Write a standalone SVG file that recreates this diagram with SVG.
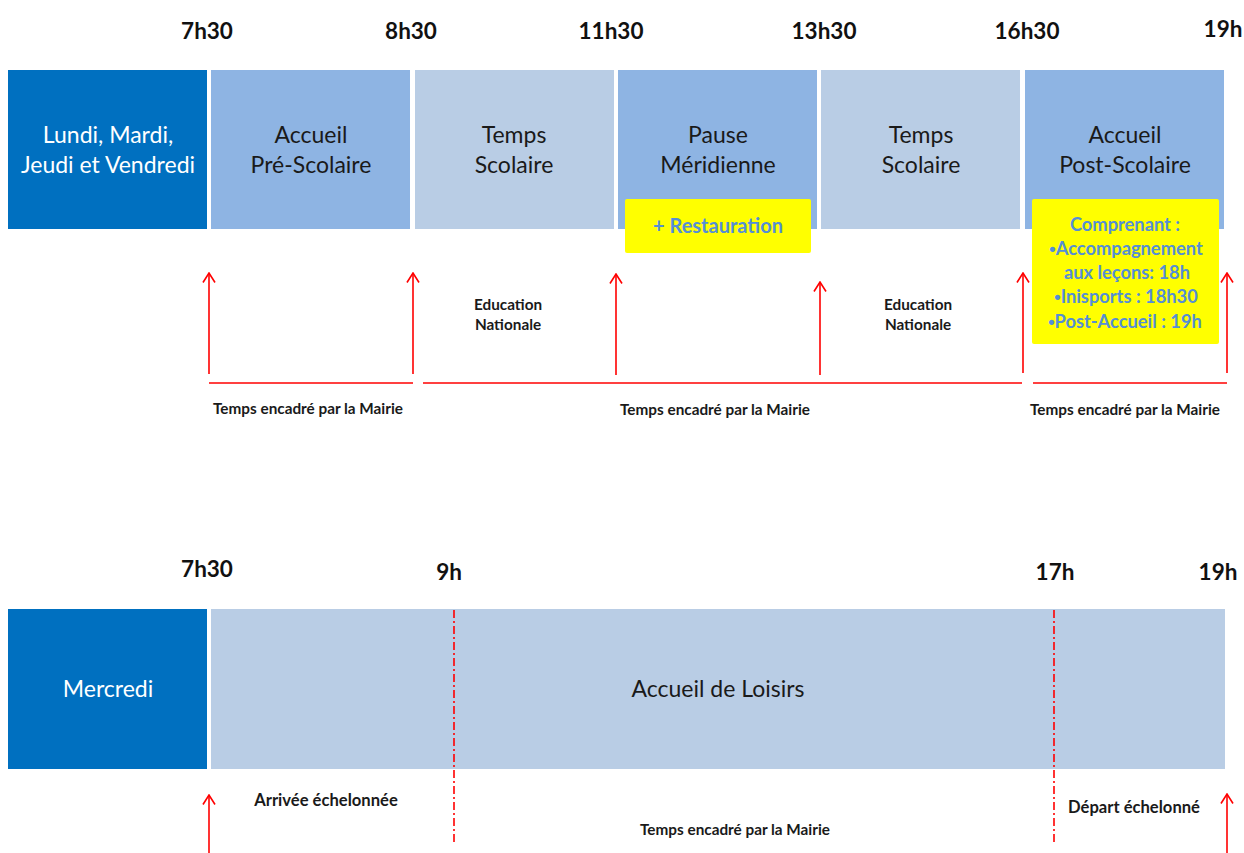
<svg xmlns="http://www.w3.org/2000/svg" width="1244" height="853" viewBox="0 0 1244 853">
<defs>
<style>
.time{font-family:Lato,"Liberation Sans",sans-serif;font-weight:bold;font-size:22.5px;fill:#111;text-anchor:middle}
.day{fill:#0070C0}
.mid{fill:#8EB4E3}
.light{fill:#B9CDE5}
.wt{font-family:Lato,"Liberation Sans",sans-serif;font-size:23px;fill:#fff;text-anchor:middle}
.bt{font-family:Lato,"Liberation Sans",sans-serif;font-size:23px;fill:#1a1a1a;text-anchor:middle}
.yel{fill:#FFFF00}
.yt{font-family:Lato,"Liberation Sans",sans-serif;font-weight:bold;font-size:18.3px;fill:#558ED5;text-anchor:middle}
.bul{font-family:"Liberation Sans",sans-serif;font-weight:bold}
.sm{font-family:Lato,"Liberation Sans",sans-serif;font-weight:bold;font-size:15.3px;fill:#1a1a1a;text-anchor:middle}
.sm2{font-family:Lato,"Liberation Sans",sans-serif;font-weight:bold;font-size:16.6px;fill:#1a1a1a;text-anchor:middle}
.arr{stroke:#FF0000;stroke-width:1.6;fill:none;marker-end:url(#ah)}
.ln{stroke:#FF0000;stroke-width:1.6;fill:none}
.dd{stroke:#FF0000;stroke-width:1.6;fill:none;stroke-dasharray:8 3 2 3}
</style>
<marker id="ah" viewBox="0 0 12 14" refX="10.5" refY="7" markerWidth="12" markerHeight="14" markerUnits="userSpaceOnUse" orient="auto">
<path d="M1,1 L10.5,7 L1,13" fill="none" stroke="#FF0000" stroke-width="1.6"/>
</marker>
</defs>
<rect width="1244" height="853" fill="#fff"/>

<g id="times-top">
<text class="time" x="207" y="39">7h30</text>
<text class="time" x="411" y="39">8h30</text>
<text class="time" x="611" y="39">11h30</text>
<text class="time" x="824" y="39">13h30</text>
<text class="time" x="1027" y="39">16h30</text>
<text class="time" x="1223" y="37">19h</text>
</g>

<g id="n-jours"><rect class="day" x="8" y="70" width="199" height="159"/>
<text class="wt" x="108" y="143">Lundi, Mardi,</text><text class="wt" x="108" y="173">Jeudi et Vendredi</text></g>
<g id="n-pre"><rect class="mid" x="211" y="70" width="199" height="159"/>
<text class="bt" x="311" y="143">Accueil</text><text class="bt" x="311" y="173">Pré-Scolaire</text></g>
<g id="n-scol1"><rect class="light" x="415" y="70" width="199" height="159"/>
<text class="bt" x="514" y="143">Temps</text><text class="bt" x="514" y="173">Scolaire</text></g>
<g id="n-pause"><rect class="mid" x="618" y="70" width="199" height="159"/>
<text class="bt" x="718" y="143">Pause</text><text class="bt" x="718" y="173">Méridienne</text></g>
<g id="n-scol2"><rect class="light" x="821" y="70" width="199" height="159"/>
<text class="bt" x="921" y="143">Temps</text><text class="bt" x="921" y="173">Scolaire</text></g>
<g id="n-post"><rect class="mid" x="1025" y="70" width="199" height="159"/>
<text class="bt" x="1125" y="143">Accueil</text><text class="bt" x="1125" y="173">Post-Scolaire</text></g>

<g id="n-restauration"><rect class="yel" x="625" y="199" width="186" height="54" rx="2"/>
<text class="yt" x="718" y="233" style="font-size:20px">+ Restauration</text></g>
<g id="n-comprenant"><rect class="yel" x="1032" y="199" width="187" height="145" rx="2"/>
<text class="yt" x="1125" y="231">Comprenant :</text>
<text class="yt" x="1126" y="255"><tspan class="bul">•</tspan>Accompagnement</text>
<text class="yt" x="1127" y="279">aux leçons: 18h</text>
<text class="yt" x="1126" y="303"><tspan class="bul">•</tspan>Inisports : 18h30</text>
<text class="yt" x="1125" y="328"><tspan class="bul">•</tspan>Post-Accueil : 19h</text></g>

<g id="times-bottom">
<text class="time" x="207" y="577">7h30</text>
<text class="time" x="449" y="580">9h</text>
<text class="time" x="1055" y="580">17h</text>
<text class="time" x="1218" y="580">19h</text>
</g>

<g id="n-mercredi"><rect class="day" x="8" y="609" width="199" height="160"/>
<text class="wt" x="108" y="697">Mercredi</text></g>
<g id="n-loisirs"><rect class="light" x="211" y="609" width="1014" height="160"/>
<text class="bt" x="718" y="697">Accueil de Loisirs</text></g>

<g id="connectors">
<line class="arr" x1="209" y1="374" x2="209" y2="273"/>
<line class="arr" x1="413" y1="374" x2="413" y2="273"/>
<line class="arr" x1="616" y1="375" x2="616" y2="274"/>
<line class="arr" x1="820" y1="375" x2="820" y2="282"/>
<line class="arr" x1="1023" y1="373" x2="1023" y2="273"/>
<line class="arr" x1="1227" y1="373" x2="1227" y2="273"/>
<line class="ln" x1="209" y1="383" x2="413" y2="383"/>
<line class="ln" x1="423" y1="383" x2="1022" y2="383"/>
<line class="ln" x1="1033" y1="383" x2="1227" y2="383"/>
<line class="dd" x1="454" y1="610" x2="454" y2="843"/>
<line class="dd" x1="1054" y1="610" x2="1054" y2="843"/>
<line class="arr" x1="209" y1="853" x2="209" y2="795"/>
<line class="arr" x1="1227" y1="853" x2="1227" y2="794"/>
</g>

<g id="labels-top">
<text class="sm" x="508" y="310">Education</text><text class="sm" x="508" y="330">Nationale</text>
<text class="sm" x="918" y="310">Education</text><text class="sm" x="918" y="330">Nationale</text>
<text class="sm" x="308" y="414">Temps encadré par la Mairie</text>
<text class="sm" x="715" y="415">Temps encadré par la Mairie</text>
<text class="sm" x="1125" y="415">Temps encadré par la Mairie</text>
</g>

<g id="labels-bottom">
<text class="sm2" x="326" y="806">Arrivée échelonnée</text>
<text class="sm2" x="1134" y="813">Départ échelonné</text>
<text class="sm" x="735" y="835">Temps encadré par la Mairie</text>
</g>
</svg>
